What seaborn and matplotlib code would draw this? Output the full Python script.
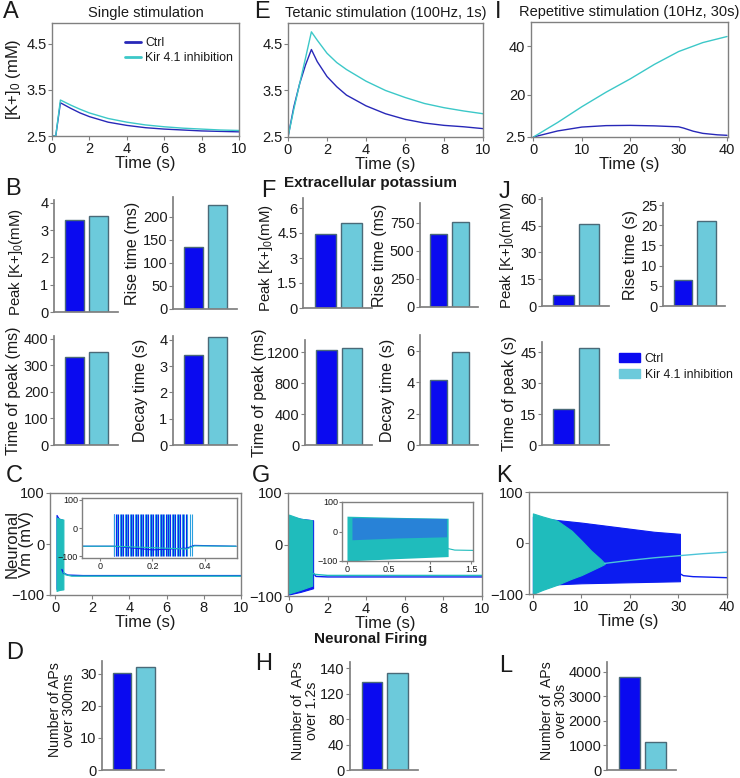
import numpy as np
import pandas as pd
import matplotlib
matplotlib.use("Agg")
import matplotlib.pyplot as plt
import seaborn as sns

sns.set_theme(style="white")
plt.rcParams["font.family"] = ["Liberation Sans", "DejaVu Sans"]
plt.rcParams["mathtext.fontset"] = "custom"
plt.rcParams["mathtext.rm"] = "Liberation Sans"
plt.rcParams["mathtext.it"] = "Liberation Sans:italic"
plt.rcParams["text.color"] = "#1a1a1a"
plt.rcParams["axes.labelcolor"] = "#1a1a1a"
plt.rcParams["xtick.color"] = "#1a1a1a"
plt.rcParams["ytick.color"] = "#1a1a1a"

W, H = 740, 778

CTRL_LINE = "#2828b8"
KIR_LINE = "#3cc8c8"
CTRL_BAR = "#0a0af0"
KIR_BAR = "#6ccadb"
CTRL_V = "#0c1cf0"
KIR_V = "#1fbcbc"
SPINE = "#808080"

groups = ["Ctrl", "Kir 4.1 inhibition"]

# ===============================
# DATA - extracellular potassium traces
# ===============================
a_time = [0, 0.2, 0.45, 1, 1.5, 2, 3, 4, 5, 6, 7, 8, 9, 10]
a_ctrl = [2.5, 2.5, 3.22, 3.1, 3.0, 2.92, 2.8, 2.73, 2.68, 2.65, 2.63, 2.61, 2.6, 2.59]
a_kir = [2.5, 2.5, 3.28, 3.17, 3.08, 3.0, 2.88, 2.8, 2.74, 2.7, 2.67, 2.65, 2.63, 2.62]

e_time = [0, 0.3, 0.6, 0.9, 1.2, 1.5, 2, 2.5, 3, 4, 5, 6, 7, 8, 9, 10]
e_ctrl = [2.5, 3.15, 3.65, 4.05, 4.38, 4.12, 3.8, 3.58, 3.4, 3.17, 3.0, 2.88, 2.8, 2.75, 2.72, 2.68]
e_kir = [2.5, 3.1, 3.65, 4.2, 4.76, 4.58, 4.3, 4.1, 3.95, 3.7, 3.5, 3.35, 3.22, 3.13, 3.06, 3.0]

i_time_ctrl = [0, 5, 10, 15, 20, 25, 30, 31, 33, 35, 38, 40]
i_ctrl = [2.5, 5.0, 6.6, 7.2, 7.3, 7.1, 6.7, 6.2, 4.9, 4.0, 3.4, 3.2]
i_time_kir = [0, 5, 10, 15, 20, 25, 30, 35, 40]
i_kir = [2.5, 8.5, 15.0, 21.0, 26.5, 32.5, 37.8, 41.5, 44.0]

# ===============================
# DATA - bar summaries (Ctrl, Kir 4.1 inhibition)
# ===============================
b_peak = [3.37, 3.5]
b_rise = [135, 225]
b_tpeak = [330, 348]
b_decay = [3.42, 4.1]

f_peak = [4.45, 5.1]
f_rise = [651, 756]
f_tpeak = [1225, 1250]
f_decay = [4.15, 5.9]

j_peak = [6, 46]
j_rise = [6.4, 21]
j_tpeak = [17.4, 47]

d_aps = [30.3, 32]
h_aps = [139, 152]
l_aps = [3770, 1125]

# ===============================
# DATA - membrane potential (envelopes of spiking, resting lines)
# ===============================
c_ctrl_env_t = [0.08, 0.2, 0.37]
c_ctrl_env_top = [57, 50, 48]
c_ctrl_env_bot = [-88, -86, -85]
c_ctrl_rest_t = [0.37, 0.45, 0.7, 1.5, 10]
c_ctrl_rest_v = [-50, -57, -61, -62, -62]
c_kir_env_t = [0.08, 0.25, 0.45]
c_kir_env_top = [52, 49, 48]
c_kir_env_bot = [-92, -90, -89]
c_kir_rest_t = [0.45, 0.55, 0.9, 10]
c_kir_rest_v = [-55, -60, -63, -63]

ci_ctrl_spikes = [0.052, 0.061, 0.070, 0.080, 0.089, 0.098, 0.108, 0.117, 0.127, 0.136,
                  0.146, 0.155, 0.165, 0.174, 0.184, 0.193, 0.203, 0.212, 0.222, 0.231,
                  0.241, 0.250, 0.260, 0.269, 0.279, 0.288, 0.298, 0.307, 0.317, 0.327]
ci_kir_spikes = [0.055, 0.065, 0.075, 0.084, 0.094, 0.104, 0.113, 0.123, 0.132, 0.142,
                 0.151, 0.161, 0.170, 0.180, 0.189, 0.199, 0.208, 0.218, 0.227, 0.237,
                 0.246, 0.256, 0.265, 0.275, 0.284, 0.294, 0.303, 0.313, 0.322, 0.332,
                 0.342, 0.352]
ci_rest_t = [-0.07, 0.05, 0.2, 0.33, 0.36, 0.52]
ci_ctrl_rest_v = [-65, -65, -78, -72, -62, -65]
ci_kir_rest_v = [-65, -65, -70, -75, -64, -65]

g_ctrl_env_t = [0, 0.6, 1.25]
g_ctrl_env_top = [55, 50, 47]
g_ctrl_env_bot = [-97, -92, -85]
g_ctrl_rest_t = [1.25, 1.4, 2, 10]
g_ctrl_rest_v = [-55, -62, -63, -63]
g_kir_env_t = [0, 0.6, 1.2]
g_kir_env_top = [58, 50, 47]
g_kir_env_bot = [-95, -88, -80]
g_kir_rest_t = [1.2, 1.35, 2, 10]
g_kir_rest_v = [-55, -58, -60, -60]

# inset G: spiking band, upper part dominated by Ctrl spikes
gi_kir_t = [0, 0.6, 1.22]
gi_kir_top = [52, 48, 45]
gi_kir_bot = [-100, -92, -85]
gi_ctrl_t = [0.06, 0.6, 1.2]
gi_ctrl_top = [47, 46, 44]
gi_ctrl_bot = [-28, -22, -18]
gi_rest_t = [1.22, 1.3, 1.52]
gi_rest_v = [-58, -63, -64]

k_ctrl_env_t = [0, 2, 5, 10, 15, 20, 25, 30.3]
k_ctrl_env_top = [52, 48, 45, 40, 34, 28, 22, 18]
k_ctrl_env_bot = [-100, -86, -81, -79, -78, -77, -76, -75]
k_ctrl_rest_t = [30.3, 31, 33, 40]
k_ctrl_rest_v = [-60, -64, -66, -68]
k_kir_env_t = [0, 2, 5, 8, 10, 12, 14, 14.8]
k_kir_env_top = [58, 52, 44, 24, 5, -15, -32, -40]
k_kir_env_bot = [-100, -92, -82, -70, -63, -54, -45, -41]
k_kir_rest_t = [14.8, 20, 25, 30, 35, 40]
k_kir_rest_v = [-40, -34, -29, -25, -21, -18]


def add_ax(fig, l, t, r, b):
    return fig.add_axes([l / W, 1 - b / H, (r - l) / W, (b - t) / H])


def estilo_linea(ax):
    for s in ax.spines.values():
        s.set_visible(True)
        s.set_color(SPINE)
        s.set_linewidth(1)
    ax.tick_params(axis="both", direction="out", length=3, width=0.8,
                   color=SPINE, labelsize=10.5, pad=1, left=True, bottom=True)


def estilo_barra(ax):
    ax.spines["top"].set_visible(False)
    ax.spines["right"].set_visible(False)
    ax.spines["left"].set_color(SPINE)
    ax.spines["bottom"].set_color(SPINE)
    ax.tick_params(axis="y", direction="out", length=3, width=0.8,
                   color=SPINE, labelsize=10.5, pad=1, left=True)
    ax.set_xticks([])
    ax.set_xlabel("")


def trazas_k(ax, t_ctrl, v_ctrl, t_kir, v_kir, legend=False):
    df = pd.concat([
        pd.DataFrame({"t": t_ctrl, "v": v_ctrl, "g": groups[0]}),
        pd.DataFrame({"t": t_kir, "v": v_kir, "g": groups[1]}),
    ])
    sns.lineplot(data=df, x="t", y="v", hue="g", ax=ax, legend=legend,
                 palette=[CTRL_LINE, KIR_LINE], linewidth=1.0, sort=False)
    estilo_linea(ax)
    ax.set_xlabel("Time (s)", fontsize=12, labelpad=0)
    ax.set_ylabel("")


def barras(ax, vals, ylabel, ylim, yticks, labelpad=2, yticklabels=None, fs=11.5):
    df = pd.DataFrame({"g": groups, "v": vals})
    sns.barplot(data=df, x="g", y="v", hue="g", palette=[CTRL_BAR, KIR_BAR],
                legend=False, width=0.8, saturation=1, edgecolor="#4a6a78",
                linewidth=1.0, ax=ax)
    ax.set_xlim(-0.85, 1.8)
    ax.set_ylim(*ylim)
    if yticklabels is None:
        ax.set_yticks(yticks)
    else:
        ax.set_yticks(yticks, labels=yticklabels)
    estilo_barra(ax)
    ax.set_ylabel(ylabel, fontsize=fs, labelpad=labelpad, linespacing=1.0)
    return ax


def voltaje(ax, env_list, rest_list):
    for t, top, bot, col in env_list:
        ax.fill_between(t, bot, top, color=col, linewidth=0.8, edgecolor=col)
    for t, v, col in rest_list:
        ax.plot(t, v, color=col, linewidth=1.0)
    estilo_linea(ax)
    ax.set_ylim(-100, 100)
    ax.set_yticks([-100, 0, 100])


fig = plt.figure(figsize=(W / 100, H / 100), dpi=100)

# ----- A / E / I -----
axA = add_ax(fig, 52, 23, 239, 136)
trazas_k(axA, a_time, a_ctrl, a_time, a_kir, legend=True)
axA.set_xlim(0, 10)
axA.set_ylim(2.5, 4.95)
axA.set_xticks([0, 2, 4, 6, 8, 10])
axA.set_yticks([2.5, 3.5, 4.5])
axA.set_ylabel("[K+]$_0$ (mM)", fontsize=12, labelpad=2)
axA.set_title("Single stimulation", fontsize=10.5, pad=4)
leg = axA.legend(loc="upper left", bbox_to_anchor=(0.33, 0.97), frameon=False,
                 fontsize=8.8, handlelength=1.3, handletextpad=0.4, labelspacing=0.25)
for ln in leg.get_lines():
    ln.set_linewidth(2)

axE = add_ax(fig, 288, 23, 483, 137)
trazas_k(axE, e_time, e_ctrl, e_time, e_kir)
axE.set_xlim(0, 10)
axE.set_ylim(2.5, 4.95)
axE.set_xticks([0, 2, 4, 6, 8, 10])
axE.set_yticks([2.5, 3.5, 4.5])
axE.set_title("Tetanic stimulation (100Hz, 1s)", fontsize=10.5, pad=4)

axI = add_ax(fig, 531, 22, 728, 137)
trazas_k(axI, i_time_ctrl, i_ctrl, i_time_kir, i_kir)
axI.set_xlim(-0.5, 40.2)
axI.set_ylim(2.5, 50)
axI.set_xticks([0, 10, 20, 30, 40])
axI.set_yticks([2.5, 20, 40], labels=["2.5", "20", "40"])
axI.set_title("Repetitive stimulation (10Hz, 30s)", fontsize=10.5, pad=4)

# ----- B -----
axB1 = barras(add_ax(fig, 54, 200, 118, 312), b_peak, "Peak [K+]$_0$(mM)", (0, 4.1), [0, 1, 2, 3, 4],
              fs=10.8)
axB1.yaxis.set_label_coords(-0.45, 0.45)
barras(add_ax(fig, 173, 197, 237, 309), b_rise, "Rise time (ms)", (0, 243), [0, 50, 100, 150, 200])
barras(add_ax(fig, 54, 336, 118, 445), b_tpeak, "Time of peak (ms)", (0, 410), [0, 100, 200, 300, 400])
barras(add_ax(fig, 173, 336, 237, 445), b_decay, "Decay time (s)", (0, 4.15), [0, 1, 2, 3, 4], labelpad=8)

# ----- F -----
axF1 = barras(add_ax(fig, 303, 198, 372, 308), f_peak, "Peak [K+]$_0$(mM)", (0, 6.6), [0, 1.5, 3, 4.5, 6],
              yticklabels=["0", "1.5", "3", "4.5", "6"], fs=10.8)
axF1.yaxis.set_label_coords(-0.41, 0.45)
barras(add_ax(fig, 420, 203, 478, 307), f_rise, "Rise time (ms)", (0, 928), [0, 250, 500, 750])
barras(add_ax(fig, 305, 340, 372, 445), f_tpeak, "Time of peak (ms)", (0, 1355), [0, 400, 800, 1200], labelpad=0)
barras(add_ax(fig, 420, 335, 478, 445), f_decay, "Decay time (s)", (0, 7), [0, 2, 4, 6], labelpad=8)

# ----- J -----
axJ1 = barras(add_ax(fig, 542, 198, 609, 306), j_peak, "Peak [K+]$_0$(mM)", (0, 60.5), [0, 15, 30, 45, 60],
              fs=10.8)
axJ1.yaxis.set_label_coords(-0.39, 0.47)
barras(add_ax(fig, 663, 203, 725, 306), j_rise, "Rise time (s)", (0, 25.5), [0, 5, 10, 15, 20, 25])
barras(add_ax(fig, 542, 342, 609, 445), j_tpeak, "Time of peak (s)", (0, 50), [0, 15, 30, 45])

handles = [plt.Rectangle((0, 0), 1, 1, color=CTRL_BAR), plt.Rectangle((0, 0), 1, 1, color=KIR_BAR)]
fig.legend(handles, groups, loc="upper left", bbox_to_anchor=(608 / W, 1 - 342 / H),
           frameon=False, fontsize=8.8, handlelength=1.7, handleheight=0.8,
           handletextpad=0.4, labelspacing=0.3)

# ----- C -----
axC = add_ax(fig, 50, 493, 241, 595)
voltaje(axC,
        [(c_ctrl_env_t, c_ctrl_env_top, c_ctrl_env_bot, CTRL_V),
         (c_kir_env_t, c_kir_env_top, c_kir_env_bot, KIR_V)],
        [(c_ctrl_rest_t, c_ctrl_rest_v, CTRL_V), (c_kir_rest_t, c_kir_rest_v, KIR_V)])
axC.set_xlim(-0.27, 10)
axC.set_xticks([0, 2, 4, 6, 8, 10])
axC.set_xlabel("Time (s)", fontsize=12, labelpad=0)
axC.set_ylabel("Neuronal\nVm (mV)", fontsize=12, linespacing=1.0, va="center")
axC.yaxis.set_label_coords(-0.16, 0.5)

axCi = add_ax(fig, 82, 498, 237, 558)
axCi.vlines(ci_ctrl_spikes, -100, 50, color=CTRL_V, linewidth=0.8)
axCi.vlines(ci_kir_spikes, -100, 50, color="#2aa0e0", linewidth=0.8)
axCi.plot(ci_rest_t, ci_ctrl_rest_v, color=CTRL_V, linewidth=0.8)
axCi.plot(ci_rest_t, ci_kir_rest_v, color=KIR_V, linewidth=0.8)
estilo_linea(axCi)
axCi.set_xlim(-0.069, 0.523)
axCi.set_ylim(-107, 107)
axCi.set_xticks([0, 0.2, 0.4], labels=["0", "0.2", "0.4"])
axCi.set_yticks([-100, 0, 100])
axCi.tick_params(labelsize=6.5, length=2, pad=1)

# ----- G -----
axG = add_ax(fig, 288, 493, 482, 596)
voltaje(axG,
        [(g_ctrl_env_t, g_ctrl_env_top, g_ctrl_env_bot, CTRL_V),
         (g_kir_env_t, g_kir_env_top, g_kir_env_bot, KIR_V)],
        [(g_ctrl_rest_t, g_ctrl_rest_v, CTRL_V), (g_kir_rest_t, g_kir_rest_v, KIR_V)])
axG.set_xlim(-0.05, 10)
axG.set_xticks([0, 2, 4, 6, 8, 10])
axG.set_xlabel("Time (s)", fontsize=12, labelpad=0)

axGi = add_ax(fig, 342, 502, 473, 561)
axGi.fill_between(gi_kir_t, gi_kir_bot, gi_kir_top, color=KIR_V, linewidth=0)
axGi.fill_between(gi_ctrl_t, gi_ctrl_bot, gi_ctrl_top, color="#2a78dc", alpha=0.85, linewidth=0)
axGi.plot(gi_rest_t, gi_rest_v, color=KIR_V, linewidth=0.8)
estilo_linea(axGi)
axGi.set_xlim(-0.06, 1.52)
axGi.set_ylim(-100, 100)
axGi.set_xticks([0, 0.5, 1, 1.5], labels=["0", "0.5", "1", "1.5"])
axGi.set_yticks([-100, 0, 100])
axGi.tick_params(labelsize=6.5, length=2, pad=1)

# ----- K -----
axK = add_ax(fig, 529, 492, 727, 594)
voltaje(axK,
        [(k_ctrl_env_t, k_ctrl_env_top, k_ctrl_env_bot, CTRL_V),
         (k_kir_env_t, k_kir_env_top, k_kir_env_bot, KIR_V)],
        [(k_ctrl_rest_t, k_ctrl_rest_v, CTRL_V), (k_kir_rest_t, k_kir_rest_v, "#4cc4d8")])
axK.set_xlim(-0.8, 40)
axK.set_xticks([0, 10, 20, 30, 40])
axK.set_xlabel("Time (s)", fontsize=12, labelpad=0)

# ----- D / H / L -----
axD = barras(add_ax(fig, 102, 661, 164, 770), d_aps, "Number of APs\nover 300ms", (0, 34), [0, 10, 20, 30],
             fs=10.2)
axD.yaxis.set_label_coords(-0.42, 0.55)
axH = barras(add_ax(fig, 350, 662, 418, 770), h_aps, "Number of  APs\nover 1.2s", (0, 170), [0, 40, 80, 120, 160],
             yticklabels=["0", "40", "80", "120", "140"], fs=10.2)
axH.yaxis.set_label_coords(-0.46, 0.55)
axL = barras(add_ax(fig, 607, 662, 676, 770), l_aps, "Number of  APs\nover 30s", (0, 4400),
             [0, 1000, 2000, 3000, 4000], fs=10.2)
axL.yaxis.set_label_coords(-0.56, 0.55)

# ----- section titles and panel letters -----
fig.text(370 / W, 1 - 183 / H, "Extracellular potassium", ha="center", va="center",
         fontsize=11, fontweight="bold")
fig.text(371 / W, 1 - 639 / H, "Neuronal Firing", ha="center", va="center",
         fontsize=11, fontweight="bold")

letras = {"A": (3, 12), "E": (254, 12), "I": (495, 12),
          "B": (5, 189), "F": (261, 191), "J": (499, 192),
          "C": (6, 476), "G": (252, 476), "K": (496, 476),
          "D": (6, 653), "H": (255, 664), "L": (499, 666)}
for k, (x, y) in letras.items():
    fig.text(x / W, 1 - y / H, k, ha="left", va="center", fontsize=17)

fig.savefig("out.png", dpi=100)
